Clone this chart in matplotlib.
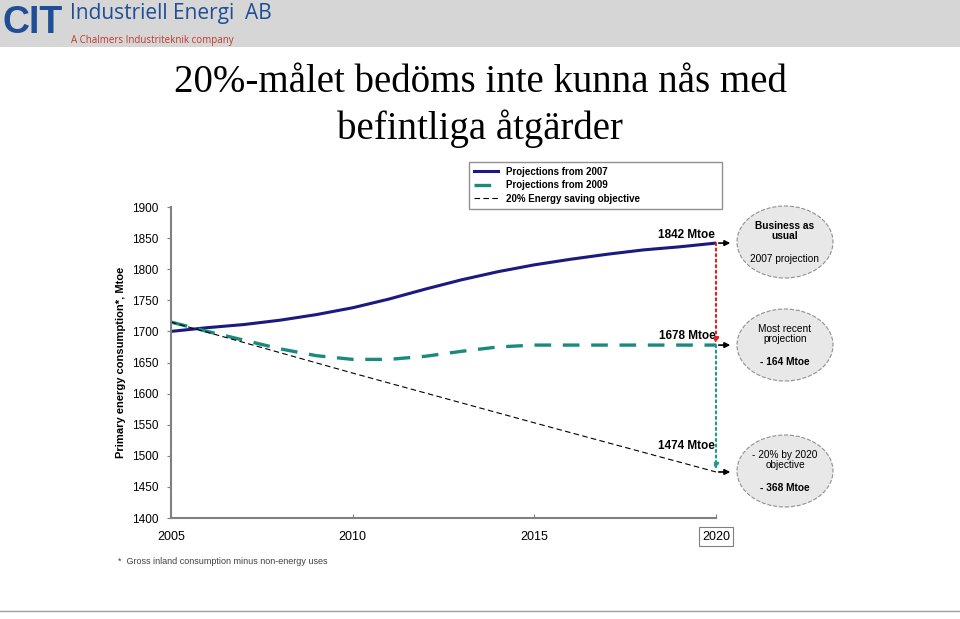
import numpy as np
import matplotlib.pyplot as plt
from matplotlib.patches import Ellipse, Rectangle
from matplotlib.lines import Line2D

plt.rcParams['font.family'] = ['Liberation Sans', 'DejaVu Sans']

# data
years_2007 = [2005, 2006, 2007, 2008, 2009, 2010, 2011, 2012, 2013, 2014, 2015, 2016, 2017, 2018, 2019, 2020]
proj_2007 = [1700, 1706, 1711, 1718, 1727, 1738, 1752, 1768, 1783, 1796, 1807, 1816, 1824, 1831, 1836, 1842]
years_2009 = [2005, 2006, 2007, 2008, 2009, 2010, 2011, 2012, 2013, 2014, 2015, 2016, 2017, 2018, 2019, 2020]
proj_2009 = [1715, 1700, 1686, 1672, 1661, 1655, 1655, 1660, 1668, 1675, 1678, 1678, 1678, 1678, 1678, 1678]
years_obj = [2005, 2010, 2015, 2020]
objective = [1715, 1633, 1553, 1474]
labels = ['Projections from 2007', 'Projections from 2009', '20% Energy saving objective']
end_values = [1842, 1678, 1474]
label_offsets = [3, 5, 32]
bubble_texts = [('Business as\nusual', '2007 projection'),
                ('Most recent\nprojection', '- 164 Mtoe'),
                ('- 20% by 2020\nobjective', '- 368 Mtoe')]

W, H = 960, 619
fig = plt.figure(figsize=(9.6, 6.19), dpi=100)

def fx(px):
    return px / W

def fy(py):
    return 1 - py / H

# header bar
fig.patches.append(Rectangle((0, fy(47)), 1, 47 / H, transform=fig.transFigure,
                             facecolor='#d6d6d6', edgecolor='none', zorder=0))
fig.text(fx(3), fy(23), 'CIT', color='#1f4e96', fontsize=27, fontweight='bold',
         va='center', ha='left')
fig.text(fx(70), fy(13), 'Industriell Energi  AB', color='#1f4e96', fontsize=15,
         va='center', ha='left', family=['Open Sans', 'DejaVu Sans'])
fig.text(fx(71), fy(41), 'A Chalmers Industriteknik company', color='#c0392b', fontsize=7,
         va='center', ha='left', family=['Open Sans', 'DejaVu Sans'])
fig.lines.append(Line2D([0, 1], [fy(611), fy(611)], transform=fig.transFigure,
                        color='#a0a0a0', lw=1))

# title
fig.text(0.5, fy(82), '20%-målet bedöms inte kunna nås med', ha='center', va='center',
         fontsize=28, family=['Liberation Serif', 'DejaVu Serif'])
fig.text(0.5, fy(129), 'befintliga åtgärder', ha='center', va='center',
         fontsize=28, family=['Liberation Serif', 'DejaVu Serif'])

# main axes
ax = fig.add_axes([fx(171), fy(518), fx(716) - fx(171), fy(207) - fy(518)])
l1, = ax.plot(years_2007, proj_2007, color='#1a1a80', lw=2.2, label=labels[0])
l2, = ax.plot(years_2009, proj_2009, color='#1a8a80', lw=2.4, ls=(0, (5, 3.5)), label=labels[1])
l3, = ax.plot(years_obj, objective, color='black', lw=0.8, ls=(0, (5, 3)), label=labels[2])

ax.set_xlim(2005, 2020)
ax.set_ylim(1400, 1900)
ax.set_xticks([2005, 2010, 2015, 2020])
ax.set_yticks(np.arange(1400, 1901, 50))
for s in ['top', 'right']:
    ax.spines[s].set_visible(False)
for s in ['left', 'bottom']:
    ax.spines[s].set_color('#808080')
    ax.spines[s].set_linewidth(1.5)
ax.tick_params(axis='y', direction='out', length=3, labelsize=8.5, colors='#808080',
               labelcolor='black', pad=6)
ax.tick_params(axis='x', direction='in', length=3, labelsize=9, colors='#808080',
               labelcolor='black', pad=9)
ax.xaxis.get_ticklabels()[-1].set_bbox(dict(facecolor='white', edgecolor='#808080',
                                            boxstyle='square,pad=0.25', lw=0.8))
ax.set_ylabel('Primary energy consumption*, Mtoe', fontsize=8, fontweight='bold', labelpad=4)

# end-value labels and arrows
for v, off in zip(end_values, label_offsets):
    ax.text(2019.98, v + off, f'{v} Mtoe', ha='right', va='bottom', fontsize=8.5,
            fontweight='bold', clip_on=False)
    ax.annotate('', xy=(2020.47, v), xytext=(2020.0, v),
                arrowprops=dict(arrowstyle='-|>', color='black', lw=1.2, mutation_scale=8),
                annotation_clip=False)
ax.annotate('', xy=(2020, end_values[1] + 2), xytext=(2020, end_values[0]),
            arrowprops=dict(arrowstyle='-|>', color='#e02020', lw=1.5, ls=':',
                            mutation_scale=8, shrinkA=0, shrinkB=0),
            annotation_clip=False)
ax.annotate('', xy=(2020, end_values[2] + 4), xytext=(2020, end_values[1]),
            arrowprops=dict(arrowstyle='-|>', color='#1a9a90', lw=1.5, ls=':',
                            mutation_scale=8, shrinkA=0, shrinkB=0),
            annotation_clip=False)

# bubbles
centers = [242, 345, 471]
for cy, (t1, t2) in zip(centers, bubble_texts):
    fig.patches.append(Ellipse((fx(785), fy(cy)), 96 / W, 72 / H, transform=fig.transFigure,
                               facecolor='#e8e8e8', edgecolor='#909090', lw=0.8, ls='--'))
    w1 = 'bold' if t1.startswith('Business') else 'normal'
    fig.text(fx(785), fy(cy - 11), t1, ha='center', va='center', fontsize=7.3,
             fontweight=w1, linespacing=1.1)
    w2 = 'normal' if t2.startswith('2007') else 'bold'
    fig.text(fx(785), fy(cy + 17), t2, ha='center', va='center', fontsize=7.3, fontweight=w2)

# legend
fig.legend(handles=[l1, l2, l3], loc='upper left',
           bbox_to_anchor=(fx(469), fy(212), (722 - 469) / W, 50 / H), mode='expand',
           fancybox=False, edgecolor='#909090', framealpha=1,
           prop=dict(size=7, weight='bold'), handlelength=2.5, labelspacing=0.35,
           borderaxespad=0, borderpad=0.5)

# footnote
fig.text(fx(118), fy(561), '*  Gross inland consumption minus non-energy uses', fontsize=6.5,
         color='#404040', va='center', ha='left')

fig.savefig('out.png', dpi=100)
